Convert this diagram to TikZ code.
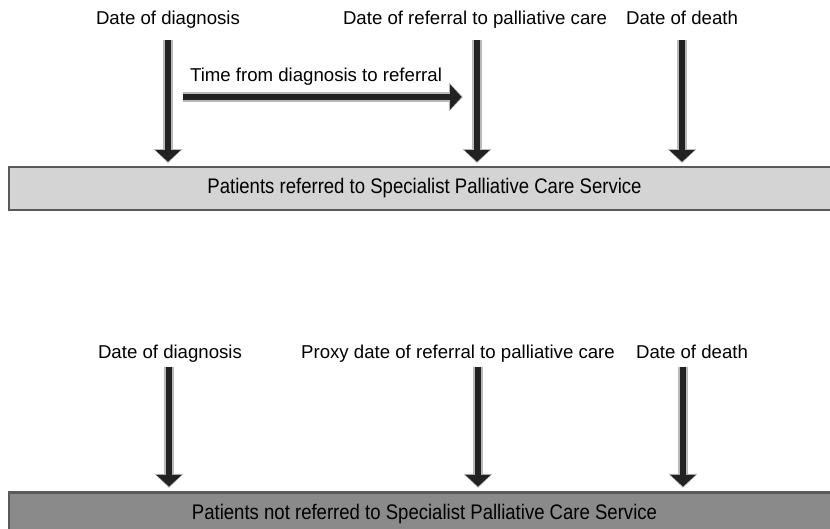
\documentclass[tikz,border=0pt]{standalone}
\usepackage{fontspec}
\setmainfont{Liberation Sans}
\newfontfamily\barfont[FakeStretch=0.88]{Liberation Sans}
\usetikzlibrary{arrows.meta}
\definecolor{barLight}{RGB}{212,212,212}
\definecolor{barDark}{RGB}{138,138,138}
\definecolor{barEdge}{RGB}{90,90,90}
\definecolor{evtDark}{RGB}{34,34,34}

\begin{document}
\begin{tikzpicture}[
    x=0.02cm, y=-0.02cm,
    font=\fontsize{10.6}{12.5}\selectfont,
    lbl/.style={inner sep=0pt, anchor=base},
    halo/.style={line width=5.4pt, draw=gray!55, -{Triangle[width=16pt, length=8pt]}},
    evt/.style={line width=3.4pt, draw=evtDark, -{Triangle[width=14pt, length=6.6pt, fill=evtDark]}},
    refbar/.style={rectangle, draw=barEdge, line width=1.2pt, minimum width=16.62cm, minimum height=0.86cm, inner sep=0pt, font=\barfont\fontsize{12}{14}\selectfont}
]
    \useasboundingbox (0,0) rectangle (830,528);

    % referred patients
    \node[lbl] (diag_1) at (168, 24) {Date of diagnosis};
    \node[lbl] (ref_1) at (475, 24) {Date of referral to palliative care};
    \node[lbl] (death_1) at (682, 24) {Date of death};
    \node[lbl] (span_lbl) at (316, 81) {Time from diagnosis to referral};
    \node[refbar, fill=barLight] (bar_1) at (424.5, 188.5) {Patients referred to Specialist Palliative Care Service};

    \coordinate (diag_1_top) at (168, 40);
    \coordinate (ref_1_top) at (477, 40);
    \coordinate (death_1_top) at (682, 40);
    \coordinate (span_start) at (183, 97);
    \coordinate (span_end) at (463, 97);

    \foreach \c in {diag_1_top, ref_1_top, death_1_top} {
        \draw[halo, shorten >=1.6pt] (\c) -- (\c |- bar_1.north);
        \draw[evt, shorten >=2.4pt] (\c) -- (\c |- bar_1.north);
    }
    \draw[halo] (span_start) -- (span_end);
    \draw[evt, shorten >=0.8pt] (span_start) -- (span_end);

    % not referred patients
    \node[lbl] (diag_2) at (170, 358) {Date of diagnosis};
    \node[lbl] (ref_2) at (458, 358) {Proxy date of referral to palliative care};
    \node[lbl] (death_2) at (692, 358) {Date of death};
    \node[refbar, fill=barDark] (bar_2) at (424.5, 514) {Patients not referred to Specialist Palliative Care Service};

    \coordinate (diag_2_top) at (169, 367);
    \coordinate (ref_2_top) at (478, 367);
    \coordinate (death_2_top) at (683, 367);

    \foreach \c in {diag_2_top, ref_2_top, death_2_top} {
        \draw[halo, shorten >=2pt] (\c) -- (\c |- bar_2.north);
        \draw[evt, shorten >=2.8pt] (\c) -- (\c |- bar_2.north);
    }
\end{tikzpicture}
\end{document}
